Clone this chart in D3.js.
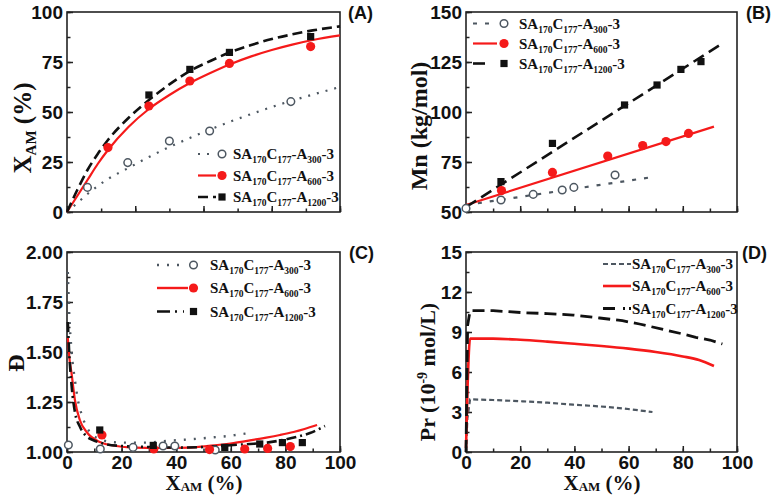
<!DOCTYPE html>
<html><head><meta charset="utf-8">
<script src="https://cdn.jsdelivr.net/npm/d3@7"></script>
<style>body{margin:0;background:#fff}svg{display:block}</style>
</head><body>
<svg id="c" width="776" height="499"></svg>
<script>
// ---------- DATA ----------
// Panel A: conversion vs time (min)
const aFitTime = [0, 15, 30, 45, 60, 90, 120, 150, 180, 210, 240, 270, 300, 330, 360, 400];
const aFit300  = [0, 4.5, 9, 13, 16.5, 22, 27.5, 32.5, 37, 41.3, 45.3, 49, 52.5, 55.7, 58.7, 62.5];
const aFit600  = [0, 8, 16, 24, 31, 42.5, 51.5, 58.5, 64.5, 69.5, 74, 77.8, 81, 83.7, 86, 88.3];
const aFit1200 = [0, 11, 21, 29, 36, 47, 56, 63.8, 70.5, 75.5, 80, 83.5, 86.5, 88.8, 90.8, 92.8];
const aTime300 = [30, 89, 150, 209, 328];
const aConv300 = [12.3, 24.7, 35.5, 40.5, 55.2];
const aTime600 = [60, 120, 180, 238, 357];
const aConv600 = [32.2, 53, 65.5, 74.3, 82.7];
const aTime1200 = [120, 180, 238, 357];
const aConv1200 = [58.5, 71.3, 79.8, 87.7];
const aYTicks = [0, 25, 50, 75, 100];

// Panel B: Mn vs conversion
const bX300 = [0, 12.9, 24.8, 35.5, 39.8, 55];
const bMn300 = [51.8, 56, 58.8, 61, 62.3, 68.5];
const bX600 = [13.1, 31.9, 52.3, 65.2, 73.8, 82.1];
const bMn600 = [60.7, 69.8, 78, 83.2, 85.2, 89.3];
const bX1200 = [12.9, 31.9, 58.5, 70.5, 79.3, 86.7];
const bMn1200 = [65.2, 84.3, 103.5, 113.5, 121.3, 125.2];
const bFitX300 = [0, 69], bFitMn300 = [53.5, 67.5];
const bFitX600 = [0, 91.5], bFitMn600 = [53.5, 92.7];
const bFitX1200 = [0, 94.6], bFitMn1200 = [52.5, 134.3];
const bYTicks = [50, 75, 100, 125, 150];

// Panel C: dispersity vs conversion
const cX300 = [0.5, 12.2, 24.2, 35.2, 39.5, 54.3];
const cD300 = [1.035, 1.015, 1.023, 1.03, 1.03, 1.01];
const cX600 = [12.8, 31.8, 52.2, 65.1, 73.5, 81.8];
const cD600 = [1.085, 1.015, 1.012, 1.015, 1.018, 1.027];
const cX1200 = [12, 31.6, 57.8, 70.6, 78.9, 86.2];
const cD1200 = [1.11, 1.033, 1.023, 1.04, 1.047, 1.047];
const cFitX300 = [0.3, 0.8, 1.7, 2.9, 4, 5.3, 7, 8.9, 12, 16, 22, 29, 37.7, 43.7, 51, 55, 59, 62.7, 67];
const cFitD300 = [1.9, 1.7, 1.5, 1.36, 1.26, 1.19, 1.13, 1.09, 1.065, 1.05, 1.047, 1.047, 1.057, 1.062, 1.07, 1.075, 1.08, 1.087, 1.095];
const cFitX600 = [0.3, 0.8, 1.7, 2.9, 4.7, 7.2, 12, 18, 24, 35, 45, 55, 61, 67, 73, 78, 83, 87, 91.6];
const cFitD600 = [1.57, 1.48, 1.39, 1.26, 1.16, 1.1, 1.05, 1.03, 1.022, 1.02, 1.022, 1.035, 1.045, 1.058, 1.072, 1.085, 1.1, 1.115, 1.135];
const cFitX1200 = [0.3, 0.8, 1.7, 2.9, 4.7, 7, 9.5, 14, 20, 30, 40, 50, 61, 67, 73.3, 79, 84, 89, 94.5];
const cFitD1200 = [1.65, 1.5, 1.33, 1.2, 1.127, 1.08, 1.06, 1.04, 1.03, 1.025, 1.022, 1.025, 1.035, 1.04, 1.047, 1.06, 1.075, 1.095, 1.13];
const cYTicks = [1.00, 1.25, 1.50, 1.75, 2.00];

// Panel D: propagating radical concentration vs conversion
const dX300 = [0, 0.5, 1.5, 10, 21, 30, 39.5, 49.3, 57.7, 64, 68.8];
const dPr300 = [0, 2.5, 3.95, 3.9, 3.8, 3.7, 3.55, 3.42, 3.27, 3.12, 3.0];
const dX600 = [0, 0.6, 1.5, 10, 20, 30, 40, 50, 60, 70, 80, 86, 91.5];
const dPr600 = [0.3, 5, 8.5, 8.5, 8.42, 8.28, 8.12, 7.95, 7.75, 7.5, 7.17, 6.9, 6.45];
const dX1200 = [0, 0.6, 1.5, 10, 21, 30, 39.5, 49.3, 57.7, 64, 73.7, 80, 84.8, 90, 94.6];
const dPr1200 = [0, 9.5, 10.6, 10.6, 10.45, 10.38, 10.27, 10.05, 9.85, 9.6, 9.15, 8.85, 8.6, 8.4, 8.1];
const dYTicks = [0, 3, 6, 9, 12, 15];

const xTicksConv = [0, 20, 40, 60, 80, 100];
const seriesSubs = ["300", "600", "1200"];

// ---------- STYLE ----------
const GRAY = "#4d5761", RED = "#f51a1a", BLACK = "#111";
const SANS = "'Liberation Sans', Arial, sans-serif";
const SERIF = "'Liberation Serif', 'Times New Roman', serif";
const svg = d3.select("#c");

function zip(xs, ys) { return xs.map((v, i) => [v, ys[i]]); }

function panel(p) {
  const g = svg.append("g");
  const x = d3.scaleLinear().domain(p.xd).range([p.l, p.r]);
  const y = d3.scaleLinear().domain(p.yd).range([p.b, p.t]);
  const minorX = d3.range(p.xd[0], p.xd[1] + 1e-9, p.xMinor);
  const minorY = d3.range(p.yd[0], p.yd[1] + 1e-9, p.yMinor);
  const style = sel => {
    sel.select(".domain").remove();
    sel.selectAll(".tick line").attr("stroke", "#222").attr("stroke-width", 1.5);
    sel.selectAll(".tick text").attr("fill", "#111").style("font-family", SANS)
      .style("font-weight", "bold").style("font-size", "19px");
  };
  g.append("g").attr("transform", `translate(0,${p.b})`)
    .call(d3.axisBottom(x).tickValues(minorX).tickSize(-3.5).tickFormat("")).call(style);
  g.append("g").attr("transform", `translate(0,${p.b})`)
    .call(d3.axisBottom(x).tickValues(p.xTicks).tickSize(-6).tickPadding(3)
      .tickFormat(p.xLabels ? d3.format("d") : "")).call(style);
  g.append("g").attr("transform", `translate(${p.l},0)`)
    .call(d3.axisLeft(y).tickValues(minorY).tickSize(-3.5).tickFormat("")).call(style);
  g.append("g").attr("transform", `translate(${p.l},0)`)
    .call(d3.axisLeft(y).tickValues(p.yTicks).tickSize(-6).tickPadding(4).tickFormat(p.yFmt)).call(style);
  g.append("rect").attr("x", p.l).attr("y", p.t).attr("width", p.r - p.l).attr("height", p.b - p.t)
    .attr("fill", "none").attr("stroke", "#222").attr("stroke-width", 1.6);
  g.append("text").attr("x", p.labX).attr("y", p.t + 7).text(p.label)
    .style("font-family", SANS).style("font-weight", "bold").style("font-size", "18px").attr("fill", "#111");
  return { g, x, y };
}

function drawLine(P, pts, color, width, dash, curved) {
  const line = d3.line().x(d => P.x(d[0])).y(d => P.y(d[1]));
  if (curved) line.curve(d3.curveMonotoneX);
  P.g.append("path").datum(pts).attr("d", line).attr("fill", "none")
    .attr("stroke", color).attr("stroke-width", width).attr("stroke-dasharray", dash || null);
}

function drawMarkers(P, pts, kind) {
  const sel = P.g.append("g").selectAll("x").data(pts).enter();
  drawMarkerSel(sel, kind, d => P.x(d[0]), d => P.y(d[1]));
}
function drawMarkerSel(sel, kind, fx, fy) {
  if (kind === "open") sel.append("circle").attr("cx", fx).attr("cy", fy).attr("r", 3.8)
    .attr("fill", "#fff").attr("stroke", GRAY).attr("stroke-width", 1.5);
  if (kind === "red") sel.append("circle").attr("cx", fx).attr("cy", fy).attr("r", 4.6).attr("fill", RED);
  if (kind === "sq") sel.append("rect").attr("x", d => fx(d) - 3.6).attr("y", d => fy(d) - 3.6)
    .attr("width", 7.2).attr("height", 7.2).attr("fill", BLACK);
}

function seriesText(g, x, y, sub) {
  const t = g.append("text").attr("x", x).attr("y", y).attr("fill", "#111")
    .style("font-family", SERIF).style("font-weight", "bold").style("font-size", "15px");
  const parts = [["SA", 0], ["170", 1], ["C", 0], ["177", 1], ["-A", 0], [sub, 1], ["-3", 0]];
  let prev = 0;
  parts.forEach(([s, isSub]) => {
    const dy = isSub ? (prev ? 0 : 4) : (prev ? -4 : 0);
    t.append("tspan").attr("dy", dy).style("font-size", isSub ? "9.5px" : "15px").text(s);
    prev = isSub;
  });
}

function legend(g, spec) {
  spec.rows.forEach((r, i) => {
    const yy = spec.ys[i];
    g.append("line").attr("x1", spec.lx0).attr("x2", r.lx1 || spec.lx1).attr("y1", yy).attr("y2", yy)
      .attr("stroke", r.color).attr("stroke-width", r.w).attr("stroke-dasharray", r.dash || null);
    if (r.marker) drawMarkerSel(g.append("g").selectAll("x").data([0]).enter(), r.marker, () => spec.mx, () => yy);
    seriesText(g, spec.tx, yy + 5, seriesSubs[i]);
  });
}

function yTitle(g, x, y, parts, size) {
  const t = g.append("text").attr("transform", `translate(${x},${y}) rotate(-90)`).attr("text-anchor", "middle")
    .attr("fill", "#111").style("font-family", SERIF).style("font-weight", "bold").style("font-size", size + "px");
  parts.forEach(([s, dy, fs]) => t.append("tspan").attr("dy", dy).style("font-size", (fs || size) + "px").text(s));
}
function xTitle(g, x, y) {
  const t = g.append("text").attr("x", x).attr("y", y).attr("text-anchor", "middle").attr("fill", "#111")
    .style("font-family", SERIF).style("font-weight", "bold").style("font-size", "21px");
  t.append("tspan").text("X");
  t.append("tspan").style("font-size", "13px").attr("dy", 1).text("AM");
  t.append("tspan").attr("dy", -1).text(" (%)");
}

// ---------- PANEL A ----------
const A = panel({ l: 67, r: 340, t: 12, b: 212, xd: [0, 400], yd: [0, 100], xTicks: [0, 100, 200, 300, 400], xMinor: 50,
  yTicks: aYTicks, yMinor: 12.5, yFmt: d3.format("d"), xLabels: false, label: "(A)", labX: 348 });
drawLine(A, zip(aFitTime, aFit300), GRAY, 2.2, "2,7", true);
drawLine(A, zip(aFitTime, aFit600), RED, 2.2, null, true);
drawLine(A, zip(aFitTime, aFit1200), BLACK, 2.6, "10,5", true);
drawMarkers(A, zip(aTime300, aConv300), "open");
drawMarkers(A, zip(aTime600, aConv600), "red");
drawMarkers(A, zip(aTime1200, aConv1200), "sq");
legend(A.g, { lx0: 198, lx1: 216, mx: 222, tx: 233, ys: [154, 175.5, 197], rows: [
  { color: GRAY, w: 2.2, dash: "2,7" }, { color: RED, w: 2.2 }, { color: BLACK, w: 2.6, dash: "10,5" }
].map((r, i) => Object.assign(r, { marker: ["open", "red", "sq"][i] })) });
yTitle(A.g, 31, 128, [["X", 0], ["AM", 5, 15], [" (%)", -5]], 25);

// ---------- PANEL B ----------
const B = panel({ l: 466, r: 737, t: 12, b: 212, xd: [0, 100], yd: [50, 150], xTicks: xTicksConv, xMinor: 10,
  yTicks: bYTicks, yMinor: 12.5, yFmt: d3.format("d"), xLabels: false, label: "(B)", labX: 746 });
drawLine(B, zip(bFitX300, bFitMn300), GRAY, 2.2, "4,8", false);
drawLine(B, zip(bFitX600, bFitMn600), RED, 2.2, null, false);
drawLine(B, zip(bFitX1200, bFitMn1200), BLACK, 2.6, "12,6", false);
drawMarkers(B, zip(bX300, bMn300), "open");
drawMarkers(B, zip(bX600, bMn600), "red");
drawMarkers(B, zip(bX1200, bMn1200), "sq");
legend(B.g, { lx0: 473, lx1: 497, mx: 504, tx: 519, ys: [23.5, 43.5, 63.5], rows: [
  { color: GRAY, w: 2.2, dash: "4,8" }, { color: RED, w: 2.2 }, { color: BLACK, w: 2.6, dash: "12,6", lx1: 488 }
].map((r, i) => Object.assign(r, { marker: ["open", "red", "sq"][i] })) });
yTitle(B.g, 427, 126, [["Mn (kg/mol)", 0]], 24);

// ---------- PANEL C ----------
const C = panel({ l: 67, r: 340, t: 252, b: 452, xd: [0, 100], yd: [1, 2], xTicks: xTicksConv, xMinor: 10,
  yTicks: cYTicks, yMinor: 0.125, yFmt: d3.format(".2f"), xLabels: true, label: "(C)", labX: 349 });
drawLine(C, zip(cFitX300, cFitD300), GRAY, 2.4, "2,8", true);
drawLine(C, zip(cFitX600, cFitD600), RED, 2.2, null, true);
drawLine(C, zip(cFitX1200, cFitD1200), BLACK, 2.6, "10,4,2,4", true);
drawMarkers(C, zip(cX300, cD300), "open");
drawMarkers(C, zip(cX600, cD600), "red");
drawMarkers(C, zip(cX1200, cD1200), "sq");
legend(C.g, { lx0: 157, lx1: 184, mx: 193.5, tx: 210, ys: [265, 288, 311.5], rows: [
  { color: GRAY, w: 2.4, dash: "2,8" }, { color: RED, w: 2.4, lx1: 188 }, { color: BLACK, w: 2.6, dash: "13,5,2,6" }
].map((r, i) => Object.assign(r, { marker: ["open", "red", "sq"][i] })) });
yTitle(C.g, 24, 363, [["Đ", 0]], 24);
xTitle(C.g, 204, 490);

// ---------- PANEL D ----------
const D = panel({ l: 466, r: 737, t: 252, b: 452, xd: [0, 100], yd: [0, 15], xTicks: xTicksConv, xMinor: 10,
  yTicks: dYTicks, yMinor: 1.5, yFmt: d3.format("d"), xLabels: true, label: "(D)", labX: 742 });
drawLine(D, zip(dX300, dPr300), GRAY, 2.2, "5,3", false);
drawLine(D, zip(dX600, dPr600), RED, 2.6, null, true);
drawLine(D, zip(dX1200, dPr1200), BLACK, 2.8, "12,6", false);
legend(D.g, { lx0: 603, lx1: 631, mx: 0, tx: 632, ys: [264, 286, 308.5], rows: [
  { color: GRAY, w: 2.2, dash: "5,3" }, { color: RED, w: 2.6 }, { color: BLACK, w: 2.8, dash: "12,8,2,4" }
] });
yTitle(D.g, 435, 372, [["Pr (10", 0], ["-9", -8, 14], [" mol/L)", 8]], 22);
xTitle(D.g, 602, 490);
</script>
</body></html>
